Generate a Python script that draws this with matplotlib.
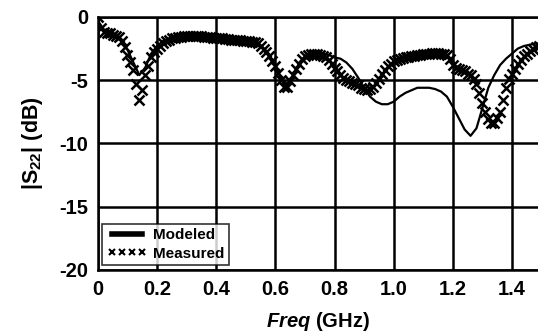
import numpy as np
import matplotlib
matplotlib.use("Agg")
import matplotlib.pyplot as plt

plt.rcParams["font.family"] = ["Liberation Sans", "DejaVu Sans"]
plt.rcParams["font.weight"] = "bold"
plt.rcParams["axes.unicode_minus"] = False
plt.rcParams["mathtext.fontset"] = "custom"
plt.rcParams["mathtext.rm"] = "Liberation Sans:bold"
plt.rcParams["mathtext.bf"] = "Liberation Sans:bold"
plt.rcParams["mathtext.it"] = "Liberation Sans:bold:italic"

# measured |S22| (dB), 0.01 GHz steps from 0 to 1.49 GHz
meas_freq = np.round(np.arange(0, 150) * 0.01, 2)
meas_db = [
    0.0, -0.9, -1.2, -1.3, -1.3, -1.4, -1.5, -1.6, -1.9, -2.4,
    -3.0, -3.6, -4.2, -5.3, -6.6, -5.8, -4.6, -3.9, -3.2, -2.8,
    -2.5, -2.3, -2.1, -1.9, -1.8, -1.7, -1.65, -1.6, -1.55, -1.5,
    -1.5, -1.5, -1.5, -1.5, -1.5, -1.5, -1.55, -1.6, -1.6, -1.65,
    -1.7, -1.7, -1.7, -1.75, -1.75, -1.8, -1.8, -1.8, -1.85, -1.9,
    -1.9, -1.9, -1.95, -2.0, -2.1, -2.3, -2.5, -2.8, -3.1, -3.5,
    -3.9, -4.4, -5.0, -5.5, -5.5, -5.1, -4.6, -4.1, -3.7, -3.3,
    -3.1, -3.0, -2.9, -2.9, -2.9, -3.0, -3.1, -3.2, -3.4, -3.7,
    -4.0, -4.3, -4.6, -4.8, -5.0, -5.1, -5.2, -5.3, -5.4, -5.6,
    -5.7, -5.8, -5.7, -5.5, -5.2, -4.9, -4.5, -4.2, -3.9, -3.7,
    -3.5, -3.4, -3.3, -3.25, -3.2, -3.15, -3.1, -3.05, -3.0, -3.0,
    -2.95, -2.9, -2.9, -2.85, -2.85, -2.85, -2.9, -2.9, -3.0, -3.3,
    -3.8, -4.0, -4.1, -4.2, -4.3, -4.5, -4.6, -4.9, -5.3, -6.0,
    -6.8, -7.5, -8.1, -8.4, -8.4, -8.0, -7.5, -6.6, -5.6, -4.9,
    -4.5, -4.1, -3.7, -3.4, -3.1, -2.9, -2.7, -2.5, -2.4, -2.3,
]

# modeled |S22| (dB), 0.02 GHz steps from 0 to 1.50 GHz
model_freq = np.round(np.arange(0, 76) * 0.02, 2)
model_db = [
    -0.3, -1.0, -1.2, -1.4, -1.8, -2.6, -3.6, -4.6, -4.0, -2.9,
    -2.3, -1.9, -1.7, -1.6, -1.5, -1.5, -1.5, -1.5, -1.55, -1.6,
    -1.65, -1.7, -1.75, -1.8, -1.85, -1.9, -1.95, -2.1, -2.5, -3.1,
    -3.9, -4.9, -5.3, -4.6, -3.7, -3.1, -2.9, -2.8, -2.9, -3.0,
    -3.2, -3.3, -3.6, -4.1, -4.8, -5.6, -6.3, -6.7, -6.9, -6.9,
    -6.7, -6.3, -6.0, -5.8, -5.6, -5.6, -5.6, -5.7, -5.9, -6.3,
    -7.1, -8.0, -8.9, -9.4, -8.8, -7.2, -5.6, -4.6, -3.8, -3.3,
    -2.9, -2.5, -2.3, -2.2, -2.1, -2.1,
]

fig = plt.figure(figsize=(5.38, 3.32), dpi=100)
ax = fig.add_axes([0.182, 0.187, 0.818, 0.762])

ax.plot(model_freq, model_db, color="black", lw=1.6, label="Modeled", zorder=3)
ax.plot(meas_freq, meas_db, "x", color="black", ms=7, mew=1.8,
        label="Measured", zorder=4)

ax.set_xlim(0, 1.488)
ax.set_ylim(-20, 0)
ax.set_xticks([0, 0.2, 0.4, 0.6, 0.8, 1.0, 1.2, 1.4])
ax.set_xticklabels(["0", "0.2", "0.4", "0.6", "0.8", "1.0", "1.2", "1.4"])
ax.set_yticks([0, -5, -10, -15, -20])
ax.grid(True, color="black", lw=1.8)
ax.set_axisbelow(True)
for s in ax.spines.values():
    s.set_linewidth(1.8)
ax.spines["right"].set_visible(False)
ax.tick_params(length=0, labelsize=14.5, pad=7)
for lab in ax.get_xticklabels() + ax.get_yticklabels():
    lab.set_fontweight("bold")

ax.set_xlabel(r"$\it{Freq}$ (GHz)", fontsize=14.5, fontweight="bold", labelpad=8)
ax.set_ylabel(r"|S$_{22}$| (dB)", fontsize=15.5, fontweight="bold", labelpad=10)

leg = ax.legend(loc="lower left", numpoints=4, handlelength=2.6,
                prop={"weight": "bold", "size": 11}, frameon=True, fancybox=False,
                borderpad=0.3, labelspacing=0.3, handletextpad=0.4,
                borderaxespad=0.3)
leg.get_frame().set_edgecolor("black")
leg.get_frame().set_linewidth(1.2)
leg.get_lines()[0].set_linewidth(4)
leg.get_lines()[1].set_markersize(5)
leg.get_lines()[1].set_markeredgewidth(1.5)

fig.savefig("out.png", dpi=100)
